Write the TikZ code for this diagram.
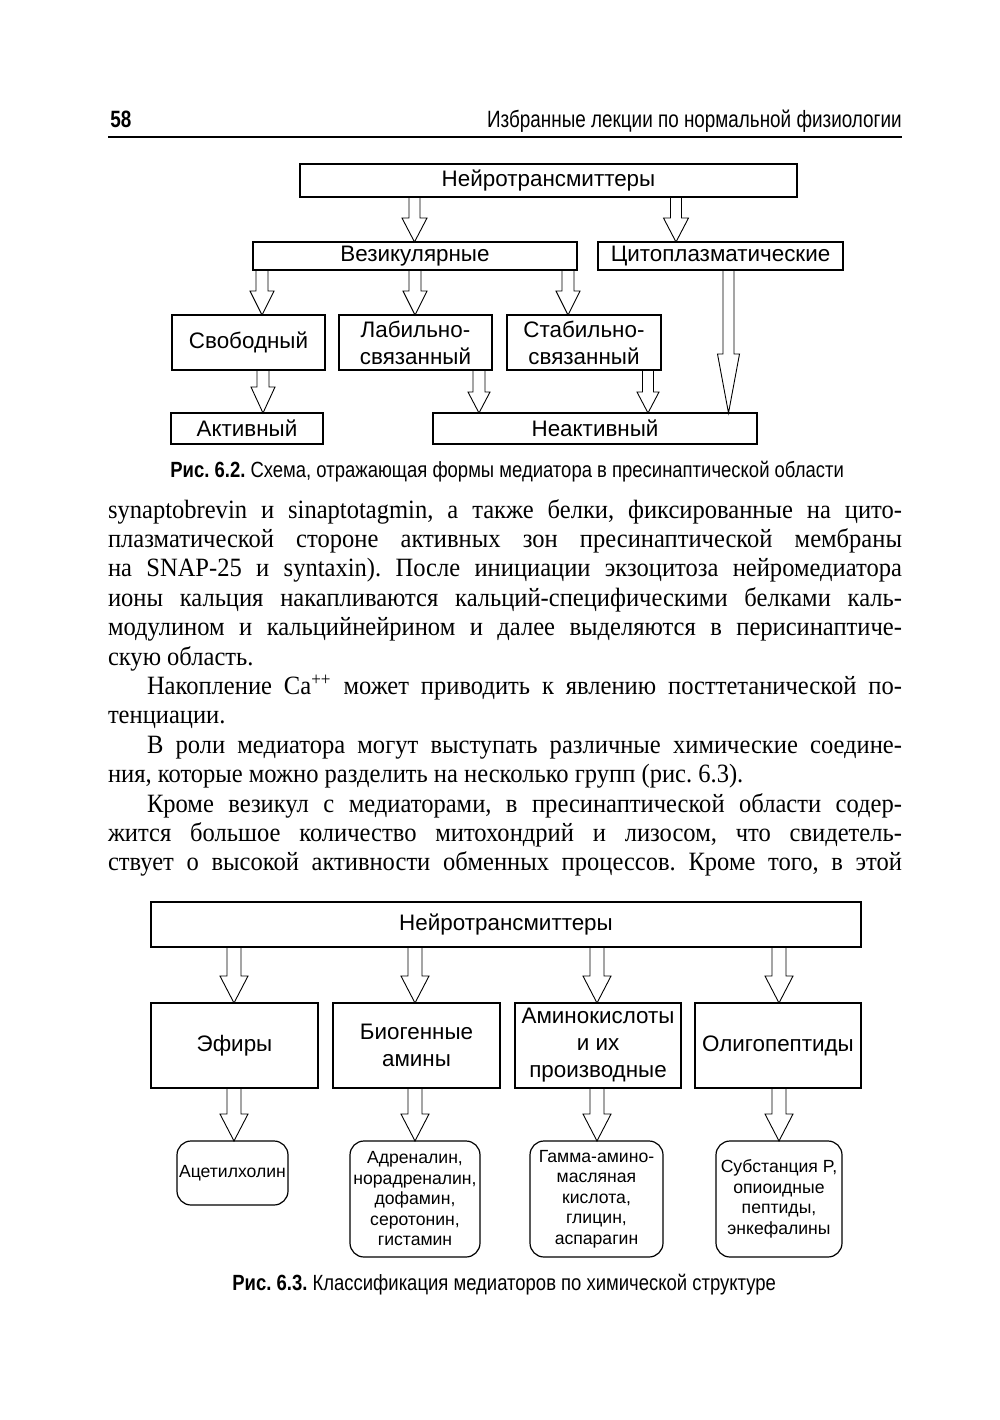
\documentclass[tikz,border=0pt]{standalone}
\usepackage{fontspec}
\setmainfont{Liberation Serif}
\newfontfamily\diagfam{Liberation Sans}
\newfontfamily\condfam[FakeStretch=0.80]{Liberation Sans}
\newfontfamily\capfam[FakeStretch=0.84]{Liberation Sans}
\newfontfamily\txtfam[FakeStretch=0.93]{Liberation Serif}
\usetikzlibrary{calc}
\frenchspacing
\newcommand\diagfont{\diagfam\fontsize{11.2}{13.5}\selectfont}
\newcommand\rbfont{\diagfam\fontsize{8.8}{10.25}\selectfont}
\newcommand\hdrfont{\condfam\fontsize{11.8}{14}\selectfont}
\newcommand\capfont{\capfam\fontsize{11}{13}\selectfont}
\newcommand\txtfont{\txtfam\fontsize{13.2}{14.7}\selectfont\frenchspacing}
\newcommand\harrow[6]{%
  \draw[harr] let \p1=(#1.south), \p2=(#2.north) in
   ({(#3-#4)*0.5pt},\y1) -- ({(#3-#4)*0.5pt},{\y2+#6*0.5pt}) --
   ({(#3-#5)*0.5pt},{\y2+#6*0.5pt}) -- ({#3*0.5pt},\y2) --
   ({(#3+#5)*0.5pt},{\y2+#6*0.5pt}) -- ({(#3+#4)*0.5pt},{\y2+#6*0.5pt}) --
   ({(#3+#4)*0.5pt},\y1);}
% box: style, name, x1, y1, x2, y2 (pixels), text
\newcommand\bx[7]{\node[#1, minimum width={(#5-#3)*0.5pt}, minimum height={(#6-#4)*0.5pt}] (#2) at ({(#3+#5)/2},{(#4+#6)/2}) {#7};}
\tikzset{
  box/.style={draw, line width=0.6pt, inner sep=0pt, outer sep=0pt, font=\diagfont, align=center},
  rbox/.style={box, rounded corners=7pt, font=\rbfont},
  harr/.style={draw, line width=0.45pt, line join=miter},
  txt/.style={inner sep=0pt, outer sep=0pt, anchor=base west, font=\txtfont},
}
\begin{document}
\begin{tikzpicture}[x=0.5pt, y=-0.5pt]
\useasboundingbox[fill=white] (0,0) rectangle (1000,1420);
% header
\node[inner sep=0pt, anchor=base west, font=\hdrfont\bfseries] (pg) at (110,127) {58};
\node[inner sep=0pt, anchor=base east, font=\hdrfont] (ttl) at (902,127) {Избранные лекции по нормальной физиологии};
\draw[line width=1pt] (108,137) -- (902,137);

% Fig 6.2
\bx{box}{nt}{300}{164}{797}{197}{Нейротрансмиттеры}
\bx{box}{ves}{253}{242}{577}{270}{Везикулярные}
\bx{box}{cyt}{598}{242}{843}{270}{Цитоплазматические}
\bx{box}{svo}{172}{315}{325}{370}{Свободный}
\bx{box}{lab}{339}{315}{492}{370}{Лабильно-\\связанный}
\bx{box}{sta}{507}{315}{661}{370}{Стабильно-\\связанный}
\bx{box}{akt}{171}{413}{323}{444}{Активный}
\bx{box}{ina}{433}{413}{757}{444}{Неактивный}

\harrow{nt}{ves}{414.5}{5.5}{12.5}{24}
\harrow{nt}{cyt}{676}{5.5}{12.5}{24}
\harrow{ves}{svo}{262}{6}{12}{24}
\harrow{ves}{lab}{415}{6}{12}{24}
\harrow{ves}{sta}{568}{6}{12}{24}
\harrow{svo}{akt}{263}{6}{12}{26}
\harrow{lab}{ina}{479}{6}{11}{21}
\harrow{sta}{ina}{648}{5.5}{11}{21}
\harrow{cyt}{ina}{728.5}{5.5}{11}{59}

\node[inner sep=0pt, anchor=base west, font=\capfont] (cap1) at (170,477) {{\bfseries Рис. 6.2.} Схема, отражающая формы медиатора в пресинаптической области};

% body text
\node[txt] (l1) at (108,518) {\makebox[397pt][s]{synaptobrevin и sinaptotagmin, а также белки, фиксированные на цито-}};
\node[txt] (l2) at (108,547.4) {\makebox[397pt][s]{плазматической стороне активных зон пресинаптической мембраны}};
\node[txt] (l3) at (108,576.8) {\makebox[397pt][s]{на SNAP-25 и syntaxin). После инициации экзоцитоза нейромедиатора}};
\node[txt] (l4) at (108,606.2) {\makebox[397pt][s]{ионы кальция накапливаются кальций-специфическими белками каль-}};
\node[txt] (l5) at (108,635.6) {\makebox[397pt][s]{модулином и кальцийнейрином и далее выделяются в перисинаптиче-}};
\node[txt] (l6) at (108,665) {скую область.};
\node[txt] (l7) at (147,694.4) {\makebox[377.5pt][s]{Накопление Ca\textsuperscript{++} может приводить к явлению посттетанической по-}};
\node[txt] (l8) at (108,723.8) {тенциации.};
\node[txt] (l9) at (147,753.2) {\makebox[377.5pt][s]{В роли медиатора могут выступать различные химические соедине-}};
\node[txt] (l10) at (108,782.6) {ния, которые можно разделить на несколько групп (рис. 6.3).};
\node[txt] (l11) at (147,812) {\makebox[377.5pt][s]{Кроме везикул с медиаторами, в пресинаптической области содер-}};
\node[txt] (l12) at (108,841.4) {\makebox[397pt][s]{жится большое количество митохондрий и лизосом, что свидетель-}};
\node[txt] (l13) at (108,870.8) {\makebox[397pt][s]{ствует о высокой активности обменных процессов. Кроме того, в этой}};

% Fig 6.3
\bx{box}{nt2}{151}{902}{861}{947}{Нейротрансмиттеры}
\bx{box}{efi}{151}{1003}{318}{1088}{Эфиры}
\bx{box}{bio}{333}{1003}{500}{1088}{Биогенные\\амины}
\bx{box}{ami}{515}{1003}{681}{1088}{Аминокислоты\\и их\\производные}
\bx{box}{oli}{695}{1003}{861}{1088}{Олигопептиды}
\bx{rbox}{ace}{177}{1141}{288}{1205}{Ацетилхолин}
\bx{rbox}{adr}{350}{1141}{480}{1257}{Адреналин,\\норадреналин,\\дофамин,\\серотонин,\\гистамин}
\bx{rbox}{gam}{530}{1141}{663}{1257}{Гамма-амино-\\масляная\\кислота,\\глицин,\\аспарагин}
\bx{rbox}{sub}{716}{1141}{842}{1257}{Субстанция P,\\опиоидные\\пептиды,\\энкефалины}

\harrow{nt2}{efi}{234}{7}{14}{27}
\harrow{nt2}{bio}{415}{7}{14}{27}
\harrow{nt2}{ami}{597}{7}{14}{27}
\harrow{nt2}{oli}{779}{7}{14}{27}
\harrow{efi}{ace}{234}{7}{14}{27}
\harrow{bio}{adr}{415}{7}{14}{27}
\harrow{ami}{gam}{597}{7}{14}{27}
\harrow{oli}{sub}{779}{7}{14}{27}

\node[inner sep=0pt, anchor=base west, font=\capfont] (cap2) at (232,1290) {{\bfseries Рис. 6.3.} Классификация медиаторов по химической структуре};
\end{tikzpicture}
\end{document}
